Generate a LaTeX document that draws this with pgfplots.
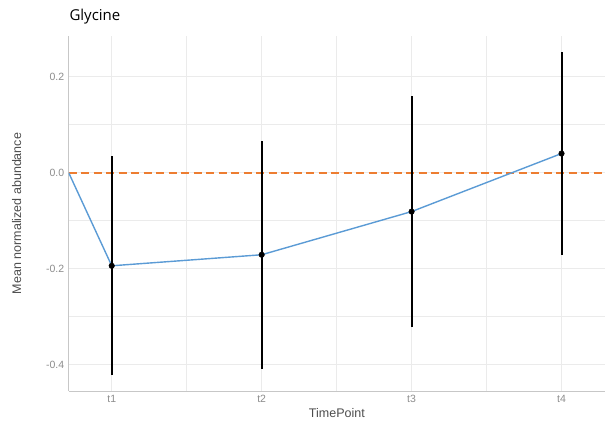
\documentclass[border=0pt]{standalone}
\usepackage{fontspec}
\setmainfont{Liberation Sans}
\newfontfamily\titlefont{Open Sans}
\usepackage{pgfplots}
\pgfplotsset{compat=1.18}
\definecolor{lineblue}{HTML}{5B9BD5}
\definecolor{refline}{HTML}{ED7D31}
\definecolor{gridgray}{HTML}{EBEBEB}
\definecolor{ticktext}{HTML}{8C8C8C}
\definecolor{labeltext}{HTML}{4D4D4D}
\begin{document}
\begin{tikzpicture}[x=1pt,y=1pt]
\path[use as bounding box] (0,0) rectangle (605,430);
\node[anchor=base west,font=\titlefont\fontsize{15}{17}\selectfont] at (66,409) {Glycine};
\begin{axis}[
  at={(68.7pt,39pt)}, anchor=south west,
  scale only axis, width=536.3pt, height=355pt,
  xmin=0.713, xmax=4.29, ymin=-0.455, ymax=0.285,
  axis x line*=bottom, axis y line*=left,
  axis line style={-, color=black!22, line width=0.9pt},
  xtick={1,2,3,4}, xticklabels={t1,t2,t3,t4},
  minor xtick={1.5,2.5,3.5},
  ytick={-0.4,-0.2,0,0.2}, yticklabels={-0.4,-0.2,0.0,0.2},
  minor ytick={-0.3,-0.1,0.1},
  major tick length=0pt, minor tick length=0pt,
  grid=both,
  major grid style={gridgray, line width=0.8pt},
  minor grid style={gridgray, line width=0.5pt},
  tick label style={font=\fontsize{10.5}{12}\selectfont, text=ticktext},
  xticklabel style={yshift=-1pt},
  yticklabel style={xshift=-1pt},
  xlabel={TimePoint}, ylabel={Mean normalized abundance},
  label style={font=\fontsize{12.5}{14}\selectfont, text=labeltext},
  xlabel style={yshift=1pt},
  ylabel style={yshift=18pt},
  clip=true,
]
% zero reference
\addplot[refline, line width=1.6pt, dash pattern=on 8pt off 4.5pt, forget plot]
  coordinates {(0.713,0) (4.29,0)};
% mean trajectory
\addplot[lineblue, line width=1.4pt, mark=none]
  coordinates {(0.713,0) (1,-0.194) (2,-0.171) (3,-0.081) (4,0.040)};
% error bars: mean +/- spread at each time point
\addplot[black, line width=2pt] coordinates {(1,-0.422) (1,0.034)};
\addplot[black, line width=2pt] coordinates {(2,-0.409) (2,0.067)};
\addplot[black, line width=2pt] coordinates {(3,-0.322) (3,0.160)};
\addplot[black, line width=2pt] coordinates {(4,-0.171) (4,0.251)};
% means
\addplot[only marks, mark=*, mark size=2.8pt, black]
  coordinates {(1,-0.194) (2,-0.171) (3,-0.081) (4,0.040)};
\end{axis}
\end{tikzpicture}
\end{document}
